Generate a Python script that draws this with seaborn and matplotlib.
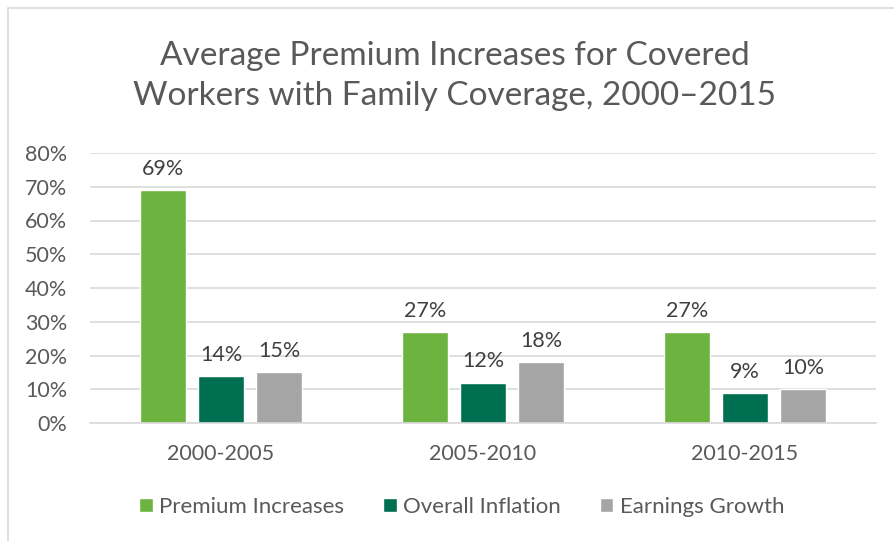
import matplotlib
matplotlib.use("Agg")
import matplotlib.pyplot as plt
import seaborn as sns
import pandas as pd
from matplotlib.patches import Rectangle

periods = ["2000-2005", "2005-2010", "2010-2015"]
series = ["Premium Increases", "Overall Inflation", "Earnings Growth"]
premium = [69, 27, 27]
inflation = [14, 12, 9]
earnings = [15, 18, 10]
colors = ["#6DB33F", "#006F51", "#A5A5A5"]
yticks = [0, 10, 20, 30, 40, 50, 60, 70, 80]

df = pd.DataFrame({
    "period": periods * 3,
    "series": [series[0]] * 3 + [series[1]] * 3 + [series[2]] * 3,
    "value": premium + inflation + earnings,
})

sns.set_theme(style="white")
plt.rcParams["font.family"] = ["Lato", "DejaVu Sans"]

fig = plt.figure(figsize=(8.95, 5.41), dpi=100)
W, H = 895, 541
ax = fig.add_axes([90 / W, 1 - 423 / H, 786 / W, 270 / H])

sns.barplot(data=df, x="period", y="value", hue="series", palette=colors,
            width=0.664, gap=0.207, ax=ax, legend=True, saturation=1)

ax.set_ylim(0, 80)
ax.set_xlim(-0.5, 2.5)
ax.set_yticks(yticks)
ax.set_yticklabels([f"{v}%" for v in yticks])
ax.yaxis.grid(True, color="#D9D9D9", linewidth=1.2)
ax.set_axisbelow(True)
for s in ["top", "right", "left"]:
    ax.spines[s].set_visible(False)
ax.spines["bottom"].set_color("#D9D9D9")
ax.spines["bottom"].set_linewidth(1.2)
ax.tick_params(axis="both", length=0, labelsize=15.5, colors="#595959")
ax.tick_params(axis="x", pad=15)
ax.tick_params(axis="y", pad=16.5)
ax.set_xlabel("")
ax.set_ylabel("")

for cont in ax.containers:
    ax.bar_label(cont, labels=[f"{int(v)}%" for v in cont.datavalues],
                 padding=8, fontsize=15.5, color="#404040")

leg = ax.legend(loc="center", bbox_to_anchor=(462 / W, 1 - 507 / H),
                bbox_transform=fig.transFigure, ncol=3, frameon=False,
                fontsize=16, handlelength=0.6, handleheight=0.6,
                handletextpad=0.3, columnspacing=1.75)
for t in leg.get_texts():
    t.set_color("#595959")

fig.text(455 / W, 1 - 76 / H, "Average Premium Increases for Covered\nWorkers with Family Coverage, 2000\u20132015",
         ha="center", va="center", fontsize=24, color="#595959", linespacing=1.42)

fig.patches.append(Rectangle((8 / W, -0.1), 1.2, 1 - 8 / H + 0.1,
                             transform=fig.transFigure, fill=False,
                             edgecolor="#D9D9D9", linewidth=1.2))

fig.savefig("out.png", dpi=100)
